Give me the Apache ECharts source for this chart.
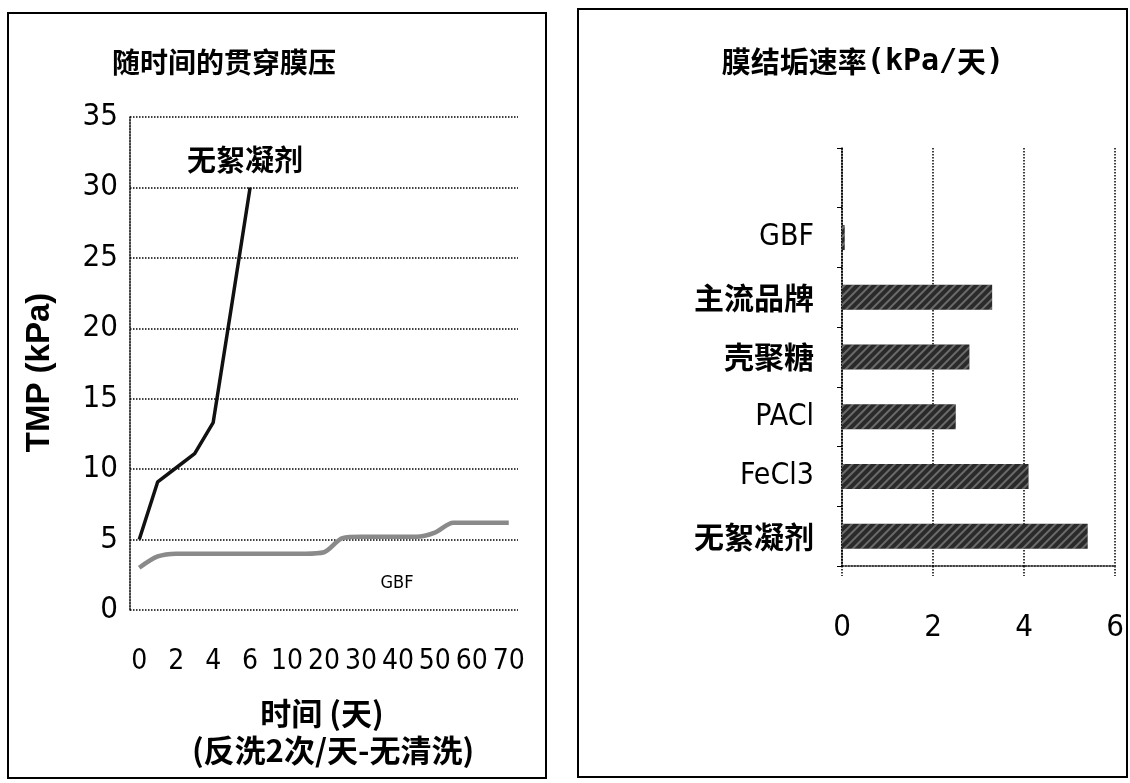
<!DOCTYPE html>
<html>
<head>
<meta charset="utf-8">
<script src="https://cdn.jsdelivr.net/npm/echarts@6/dist/echarts.min.js"></script>
<style>
html,body{margin:0;padding:0;background:#fff;}
#c{width:1130px;height:783px;}
</style>
</head>
<body>
<div id="c"></div>
<script>
// ---- Left chart data: TMP over time ----
const dayCategories = ['0','1','2','3','4','5','6','8','10','15','20','25','30','35','40','45','50','55','60','65','70'];
const noFlocTMP = [5.0, 9.1, 10.1, 11.1, 13.3, 21.6, 30.0, null, null, null, null, null, null, null, null, null, null, null, null, null, null];
const gbfTMP = [3.0, 3.8, 4.0, 4.0, 4.0, 4.0, 4.0, 4.0, 4.0, 4.0, 4.1, 5.1, 5.2, 5.2, 5.2, 5.2, 5.5, 6.2, 6.2, 6.2, 6.2];
const tmpTicks = [0, 5, 10, 15, 20, 25, 30, 35];

// ---- Right chart data: fouling rate ----
const rateCategories = ['', 'GBF', '主流品牌', '壳聚糖', 'PACl', 'FeCl3', '无絮凝剂'];
const rateValues = [null, 0.06, 3.3, 2.8, 2.5, 4.1, 5.4];
const rateTicks = [0, 2, 4, 6];

const CJK = "'Noto Sans CJK SC', sans-serif";
const NUM = "'DejaVu Sans Condensed', 'Liberation Sans Narrow', 'Liberation Sans', Arial, sans-serif";
const MONO = "'DejaVu Sans Mono', 'Liberation Mono', monospace";

const chart = echarts.init(document.getElementById('c'), null, {renderer: 'canvas'});

const dotted = {color: '#000', width: 1.5, type: 'dotted'};

const option = {
  backgroundColor: '#fff',
  animation: false,
  grid: [
    {left: 130, top: 117, width: 388, height: 493},
    {left: 842, top: 148, width: 273, height: 418}
  ],
  xAxis: [
    {
      gridIndex: 0, type: 'category', data: dayCategories, boundaryGap: true,
      axisLine: {show: false}, axisTick: {show: false},
      splitLine: {show: false},
      axisLabel: {interval: 1, margin: 38, fontSize: 28, color: '#000', fontFamily: NUM}
    },
    {
      gridIndex: 1, type: 'value', min: rateTicks[0], max: rateTicks[rateTicks.length-1], interval: 2,
      axisLine: {show: true, lineStyle: dotted},
      axisTick: {show: true, length: 10, lineStyle: dotted},
      splitLine: {show: true, lineStyle: dotted},
      axisLabel: {margin: 46, fontSize: 31, color: '#000', fontFamily: NUM}
    }
  ],
  yAxis: [
    {
      gridIndex: 0, type: 'value', min: tmpTicks[0], max: tmpTicks[tmpTicks.length-1], interval: 5,
      name: 'TMP (kPa)', nameLocation: 'middle', nameGap: 74, nameRotate: 90,
      nameTextStyle: {fontSize: 33, fontWeight: 'bold', color: '#000', fontFamily: "'Liberation Sans', Arial, sans-serif", padding: [0, 18, 0, 0]},
      axisLine: {show: true, lineStyle: dotted}, axisTick: {show: false},
      splitLine: {show: true, lineStyle: dotted},
      axisLabel: {margin: 12, fontSize: 31, color: '#000', fontFamily: NUM}
    },
    {
      gridIndex: 1, type: 'category', data: rateCategories, inverse: true,
      axisLine: {show: true, lineStyle: dotted},
      axisTick: {show: true, length: 5, lineStyle: {color: '#000', width: 1}},
      splitLine: {show: false},
      axisLabel: {
        margin: 28, color: '#000', fontSize: 24,
        formatter: function (v) { return /[\u4e00-\u9fff]/.test(v) ? '{c|' + v + '}' : '{n|' + v + '}'; },
        rich: {
          c: {fontSize: 30, fontWeight: 'bold', fontFamily: CJK, color: '#000'},
          n: {fontSize: 30, fontFamily: NUM, color: '#000'}
        }
      }
    }
  ],
  series: [
    {
      name: '无絮凝剂', type: 'line', xAxisIndex: 0, yAxisIndex: 0, data: noFlocTMP,
      symbol: 'none', connectNulls: false,
      lineStyle: {color: '#111', width: 3.5}
    },
    {
      name: 'GBF', type: 'line', xAxisIndex: 0, yAxisIndex: 0, data: gbfTMP,
      symbol: 'none', smooth: 0.3,
      lineStyle: {color: '#8a8a8a', width: 4.5}
    },
    {
      name: 'rate', type: 'bar', xAxisIndex: 1, yAxisIndex: 1, data: rateValues,
      barWidth: 25,
      itemStyle: {
        color: '#2a2a2a',
        decal: {symbol: 'rect', dashArrayX: [1, 0], dashArrayY: [2, 4], rotation: -Math.PI / 4, color: 'rgba(255,255,255,0.3)'}
      }
    }
  ],
  graphic: [
    {type: 'rect', shape: {x: 8, y: 13, width: 538, height: 765}, style: {fill: 'none', stroke: '#000', lineWidth: 2}, silent: true},
    {type: 'rect', shape: {x: 578, y: 9, width: 549, height: 768}, style: {fill: 'none', stroke: '#000', lineWidth: 2}, silent: true},
    {type: 'text', style: {text: '随时间的贯穿膜压', x: 224, y: 62, fontSize: 28, fontWeight: 'bold', fontFamily: CJK, fill: '#000', align: 'center', verticalAlign: 'middle'}},
    {type: 'text', style: {
      text: '{c|膜结垢速率}{m|(kPa/}{c|天}{m|)}', x: 863, y: 62, align: 'center', verticalAlign: 'middle',
      rich: {
        c: {fontSize: 29, fontWeight: 'bold', fontFamily: CJK, fill: '#000'},
        m: {fontSize: 30, fontWeight: 'bold', fontFamily: MONO, fill: '#000'}
      }
    }},
    {type: 'text', style: {text: '无絮凝剂', x: 245, y: 160, fontSize: 29, fontWeight: 'bold', fontFamily: CJK, fill: '#000', align: 'center', verticalAlign: 'middle'}},
    {type: 'text', style: {text: 'GBF', x: 397, y: 583, fontSize: 18, fontFamily: NUM, fill: '#000', align: 'center', verticalAlign: 'middle'}},
    {type: 'text', style: {text: '时间 (天)', x: 322, y: 713, fontSize: 31, fontWeight: 'bold', fontFamily: CJK, fill: '#000', align: 'center', verticalAlign: 'middle'}},
    {type: 'text', style: {text: '(反洗2次/天-无清洗)', x: 333, y: 750, fontSize: 31, fontWeight: 'bold', fontFamily: CJK, fill: '#000', align: 'center', verticalAlign: 'middle'}}
  ]
};
chart.setOption(option);
</script>
</body>
</html>
